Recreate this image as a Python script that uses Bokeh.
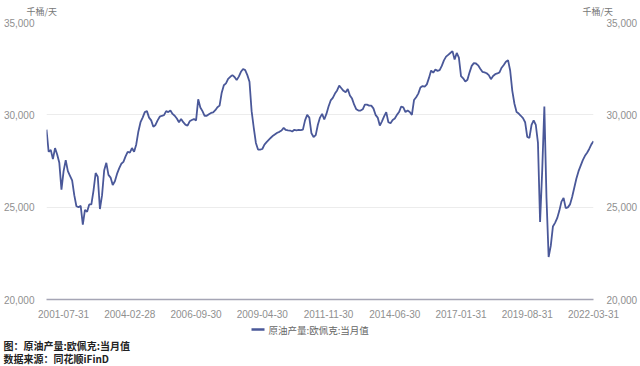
import pandas as pd
from bokeh.plotting import figure
from bokeh.layouts import column
from bokeh.models import Range1d, LinearAxis, FixedTicker, NumeralTickFormatter
from bokeh.core.properties import value
from bokeh.embed import file_html
from bokeh.resources import INLINE

# ---- data (monthly) ----
months = pd.date_range("2000-11-30", periods=257, freq="ME").strftime("%Y-%m").tolist()
values = [
    29200, 28000, 28100, 27600, 28200, 27850, 27400, 25950, 26950, 27550,
    26950, 26700, 26450, 25650, 25050, 25000, 25070, 24050, 24850, 24750,
    25150, 25150, 25900, 26850, 26650, 24900, 25650, 27000, 27400, 26750,
    26600, 26200, 26400, 26800, 27100, 27350, 27450, 27750, 28000, 27950,
    28200, 28000, 28400, 29100, 29600, 29850, 30150, 30200, 29850, 29700,
    29350, 29450, 29700, 29900, 29950, 29980, 30200, 30150, 30230, 30050,
    29950, 29800, 29600, 29780, 29600, 29470, 29410, 29650, 29720, 29770,
    29700, 30840, 30400, 30200, 29950, 29950, 30030, 30100, 30130, 30250,
    30410, 30500, 31200, 31600, 31700, 31950, 32060, 32150, 32050, 31880,
    32070, 32330, 32480, 32420, 32150, 31790, 30200, 29300, 28480, 28120,
    28120, 28150, 28390, 28520, 28640, 28760, 28870, 28950, 29030, 29080,
    29150, 29290, 29180, 29160, 29150, 29100, 29190, 29160, 29180, 29170,
    29200, 29700, 30000, 29850, 29000, 28800, 28900, 29460, 29850, 30050,
    29750, 30050, 30450, 30780, 30920, 31150, 31320, 31580, 31440, 31300,
    31220, 31400, 31050, 30880, 30550, 30300, 30230, 30230, 30300, 30550,
    30550, 30500, 30500, 30350, 30000, 29850, 29420, 29650, 29920, 30150,
    29600, 29550, 29720, 29800, 30000, 30150, 30450, 30400, 30150, 30230,
    30150, 30000, 30800, 30950, 31150, 31480, 31560, 31530, 31650, 32000,
    32400, 32280, 32450, 32380, 32420, 32650, 32950, 33150, 33250, 33350,
    33450, 33000, 33350, 33100, 32100, 31980, 31800, 31900, 32300, 32650,
    32800, 32780, 32680, 32500, 32330, 32300, 32250, 32150, 31930, 32100,
    32200, 32240, 32300, 32550, 32700, 32880, 32960, 32400, 31300, 30600,
    30150, 30070, 29950, 29820, 29600, 28800, 28750, 29450, 29700, 29450,
    28500, 24200, 27000, 30450, 25500, 22300, 22900, 23950, 24150, 24400,
    24800, 25300, 25500, 24950, 24990, 25150, 25550, 26050, 26550, 26950,
    27250, 27550, 27780, 27950, 28150, 28400, 28570,
]
tick_labels = ["2001-07-31", "2004-02-28", "2006-09-30", "2009-04-30", "2011-11-30",
               "2014-06-30", "2017-01-31", "2019-08-31", "2022-03-31"]
y_ticks = [20000, 25000, 30000, 35000]
series_name = "原油产量:欧佩克:当月值"
unit_text = "千桶/天"
note_title = "图：原油产量:欧佩克:当月值"
note_source = "数据来源：同花顺iFinD"

x = list(range(len(months)))
tick_pos = [months.index(t[:7]) for t in tick_labels]

LINE = "#4a5899"
TICK = "#8f8f8f"
CJK = "Noto Sans CJK SC"
LAT = "Liberation Sans"
W = 640


def blank(height):
    f = figure(width=W, height=height, output_backend="svg", toolbar_location=None,
               x_range=Range1d(0, W), y_range=Range1d(height, 0),
               x_axis_location=None, y_axis_location=None,
               min_border=0, outline_line_color=None, frame_align=False)
    f.xgrid.visible = False
    f.ygrid.visible = False
    f.title.visible = False
    return f


# ---- top strip: units ----
top = blank(17)
top.text(x=[26, 582], y=[10.5, 10.5], text=[unit_text, unit_text],
         text_font=value(CJK), text_font_size="9px", text_color="#777777",
         text_baseline="middle", text_align="left")

# ---- main chart ----
p = figure(width=W, height=303, output_backend="svg", toolbar_location=None,
           x_range=Range1d(0, len(months) - 1), y_range=Range1d(20000, 35000),
           min_border_left=40, min_border_right=45, min_border_top=5,
           min_border_bottom=19, outline_line_color=None, frame_align=False)
p.title.visible = False

r = p.line(x, values, line_color=LINE, line_width=1.8)

xa = p.xaxis[0]
xa.ticker = FixedTicker(ticks=tick_pos)
xa.major_label_overrides = {pos: lab for pos, lab in zip(tick_pos, tick_labels)}
xa.major_tick_line_color = None
xa.minor_tick_line_color = None
xa.axis_line_color = "#a5a5b5"
xa.axis_line_width = 1.5
xa.major_label_text_color = TICK
xa.major_label_text_font_size = "10px"
xa.major_label_text_font = LAT
xa.major_label_standoff = 4


def style_y(ax):
    ax.ticker = FixedTicker(ticks=y_ticks)
    ax.formatter = NumeralTickFormatter(format="0,0")
    ax.axis_line_color = None
    ax.major_tick_line_color = None
    ax.minor_tick_line_color = None
    ax.major_label_text_color = TICK
    ax.major_label_text_font_size = "10px"
    ax.major_label_text_font = LAT
    ax.major_label_standoff = 6


style_y(p.yaxis[0])
ra = LinearAxis()
style_y(ra)
ra.major_label_standoff = 7
p.add_layout(ra, "right")

p.xgrid.visible = False
p.ygrid.ticker = FixedTicker(ticks=y_ticks)
p.ygrid.grid_line_color = "#ececec"

# ---- bottom strip: legend + notes ----
bot = blank(46)
bot.segment(x0=[251], y0=[9], x1=[264], y1=[9], line_color=LINE, line_width=2.5)
bot.text(x=[268], y=[9], text=[series_name], text_font=value(CJK),
         text_font_size="9.5px", text_color="#666666",
         text_baseline="middle", text_align="left")
bot.text(x=[3, 3], y=[25, 38], text=[note_title, note_source], text_font=value(CJK),
         text_font_size="10px", text_font_style="bold", text_color="#222222",
         text_baseline="middle", text_align="left")

layout = column(top, p, bot, spacing=0)
open("out.html", "w").write(file_html(layout, INLINE))
